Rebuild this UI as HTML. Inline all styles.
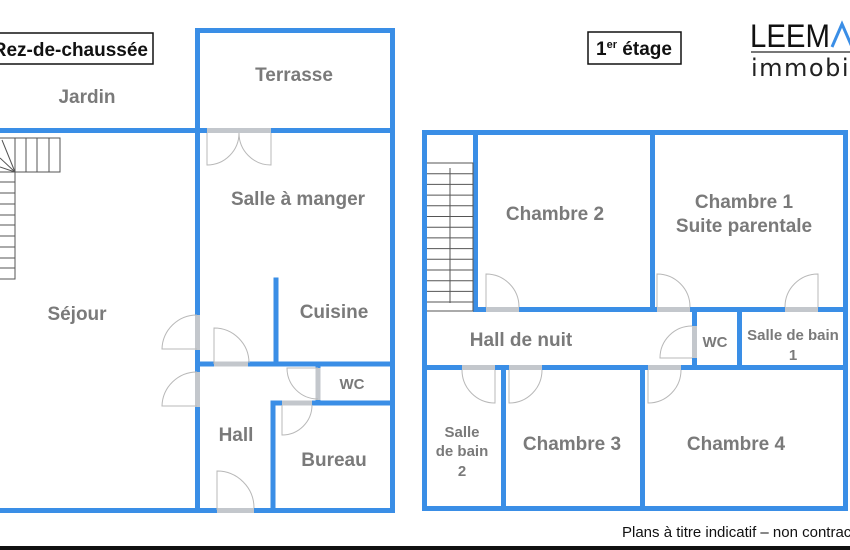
<!DOCTYPE html>
<html><head><meta charset="utf-8"><style>
html,body{margin:0;padding:0;background:#fff;overflow:hidden;}
svg{display:block;}
.w{stroke:#3a8ee6;stroke-width:5;fill:none;stroke-linecap:square;}
.g{stroke:#c3c7cc;stroke-width:5;fill:none;}
.d{stroke:#b8b8b8;stroke-width:1;fill:none;}
.s{stroke:#555;stroke-width:1;fill:none;}
.l{font-family:"Liberation Sans",sans-serif;font-weight:bold;fill:#7a7a7a;font-size:19px;text-anchor:middle;}
.sm{font-size:15px;}
</style></head><body>
<svg width="850" height="550" viewBox="0 0 850 550" xmlns="http://www.w3.org/2000/svg">
<rect width="850" height="550" fill="#fff"/>
<path class="w" d="M0 130.5H392.5M197.5 30.5H392.5V510.5H0M197.5 30.5V510.5M276 280V364M197.5 364H392.5M318 364V403M273 403H392.5M273 403V510.5"/>
<path class="g" d="M207 130.5H271M197.5 315V350M197.5 372V407M214 364H248M318 368V400M282 403H312M217 510.5H254"/>
<path class="d" d="M207 133V165A32 32 0 0 0 239 133M271 133V165A32 32 0 0 1 239 133"/>
<path class="d" d="M197 349H162A35 35 0 0 1 197 315M197 406H162A35 35 0 0 1 197 372"/>
<path class="d" d="M214 364V328A35 35 0 0 1 249 363"/>
<path class="d" d="M318 368H287A31 31 0 0 0 318 399"/>
<path class="d" d="M282 405V435A30 30 0 0 0 312 405"/>
<path class="d" d="M217 510V471A37 37 0 0 1 254 508"/>
<path class="s" d="M0 138H60V172H0M15 138V279H0M26 138V172M37 138V172M49 138V172M0 182H15M0 193H15M0 204H15M0 215H15M0 225H15M0 236H15M0 247H15M0 258H15M0 268H15M15 172L2 140M15 172L0 158M15 172L0 167"/>
<rect x="-5" y="33" width="158" height="31" fill="none" stroke="#111" stroke-width="1.5"/>
<text x="148" y="56" font-family="Liberation Sans,sans-serif" font-weight="bold" font-size="19" fill="#111" text-anchor="end">Rez-de-chaussée</text>
<text class="l" x="87" y="103">Jardin</text>
<text class="l" x="294" y="81">Terrasse</text>
<text class="l" x="298" y="205">Salle à manger</text>
<text class="l" x="77" y="320">Séjour</text>
<text class="l" x="334" y="318">Cuisine</text>
<text class="l sm" x="352" y="389">WC</text>
<text class="l" x="236" y="441">Hall</text>
<text class="l" x="334" y="466">Bureau</text>
<path class="w" d="M424.5 132.5H845.5V508.5H424.5ZM475.5 132.5V309.5M652.5 132.5V309.5M475.5 309.5H845.5M424.5 367.5H845.5M694.5 309.5V367.5M739.5 309.5V367.5M503.5 367.5V508.5M642.5 367.5V508.5"/>
<path class="g" d="M486 309.5H519M657 309.5H690M785 309.5H818M694.5 326V358M462 367.5H495M509 367.5H542M648 367.5H681"/>
<path class="d" d="M486 307V274A33 33 0 0 1 519 307M657 307V274A33 33 0 0 1 690 307M818 307V274A33 33 0 0 0 785 307M692 326A32 32 0 0 0 660 358H692M495 370V403A33 33 0 0 1 462 370M509 370V403A33 33 0 0 0 542 370M648 370V403A33 33 0 0 0 681 370"/>
<path class="s" d="M427 163H473V311H427M450 168V303M427 173.7H473M427 184.4H473M427 195.1H473M427 205.8H473M427 216.5H473M427 227.2H473M427 237.9H473M427 248.6H473M427 259.3H473M427 270H473M427 280.7H473M427 291.4H473M427 302H473"/>
<rect x="588" y="32" width="93" height="32" fill="none" stroke="#111" stroke-width="1.5"/>
<text x="634" y="55" font-family="Liberation Sans,sans-serif" font-weight="bold" font-size="19" fill="#111" text-anchor="middle">1<tspan font-size="11" dy="-7">er</tspan><tspan dy="7"> étage</tspan></text>
<text class="l" x="555" y="220">Chambre 2</text>
<text class="l" x="744" y="208">Chambre 1</text>
<text class="l" x="744" y="232">Suite parentale</text>
<text class="l" x="521" y="346">Hall de nuit</text>
<text class="l sm" x="715" y="347">WC</text>
<text class="l sm" x="793" y="340">Salle de bain</text>
<text class="l sm" x="793" y="360">1</text>
<text class="l sm" x="462" y="437">Salle</text>
<text class="l sm" x="462" y="456">de bain</text>
<text class="l sm" x="462" y="476">2</text>
<text class="l" x="572" y="450">Chambre 3</text>
<text class="l" x="736" y="450">Chambre 4</text>
<text x="750" y="47" font-family="Liberation Sans,sans-serif" font-size="32" fill="#111" textLength="80" lengthAdjust="spacingAndGlyphs">LEEM</text>
<path d="M832 47L842 24L852 47" stroke="#3a8ee6" stroke-width="3" fill="none"/>
<rect x="751" y="51" width="99" height="2" fill="#777"/>
<text x="751" y="76" font-family="DejaVu Sans,sans-serif" font-size="24" fill="#222" letter-spacing="1.5">immobil</text>
<text x="622" y="537" font-family="Liberation Sans,sans-serif" font-size="15" fill="#111">Plans à titre indicatif – non contractuels</text>
<rect x="0" y="546" width="850" height="4" fill="#111"/>
</svg>
</body></html>
